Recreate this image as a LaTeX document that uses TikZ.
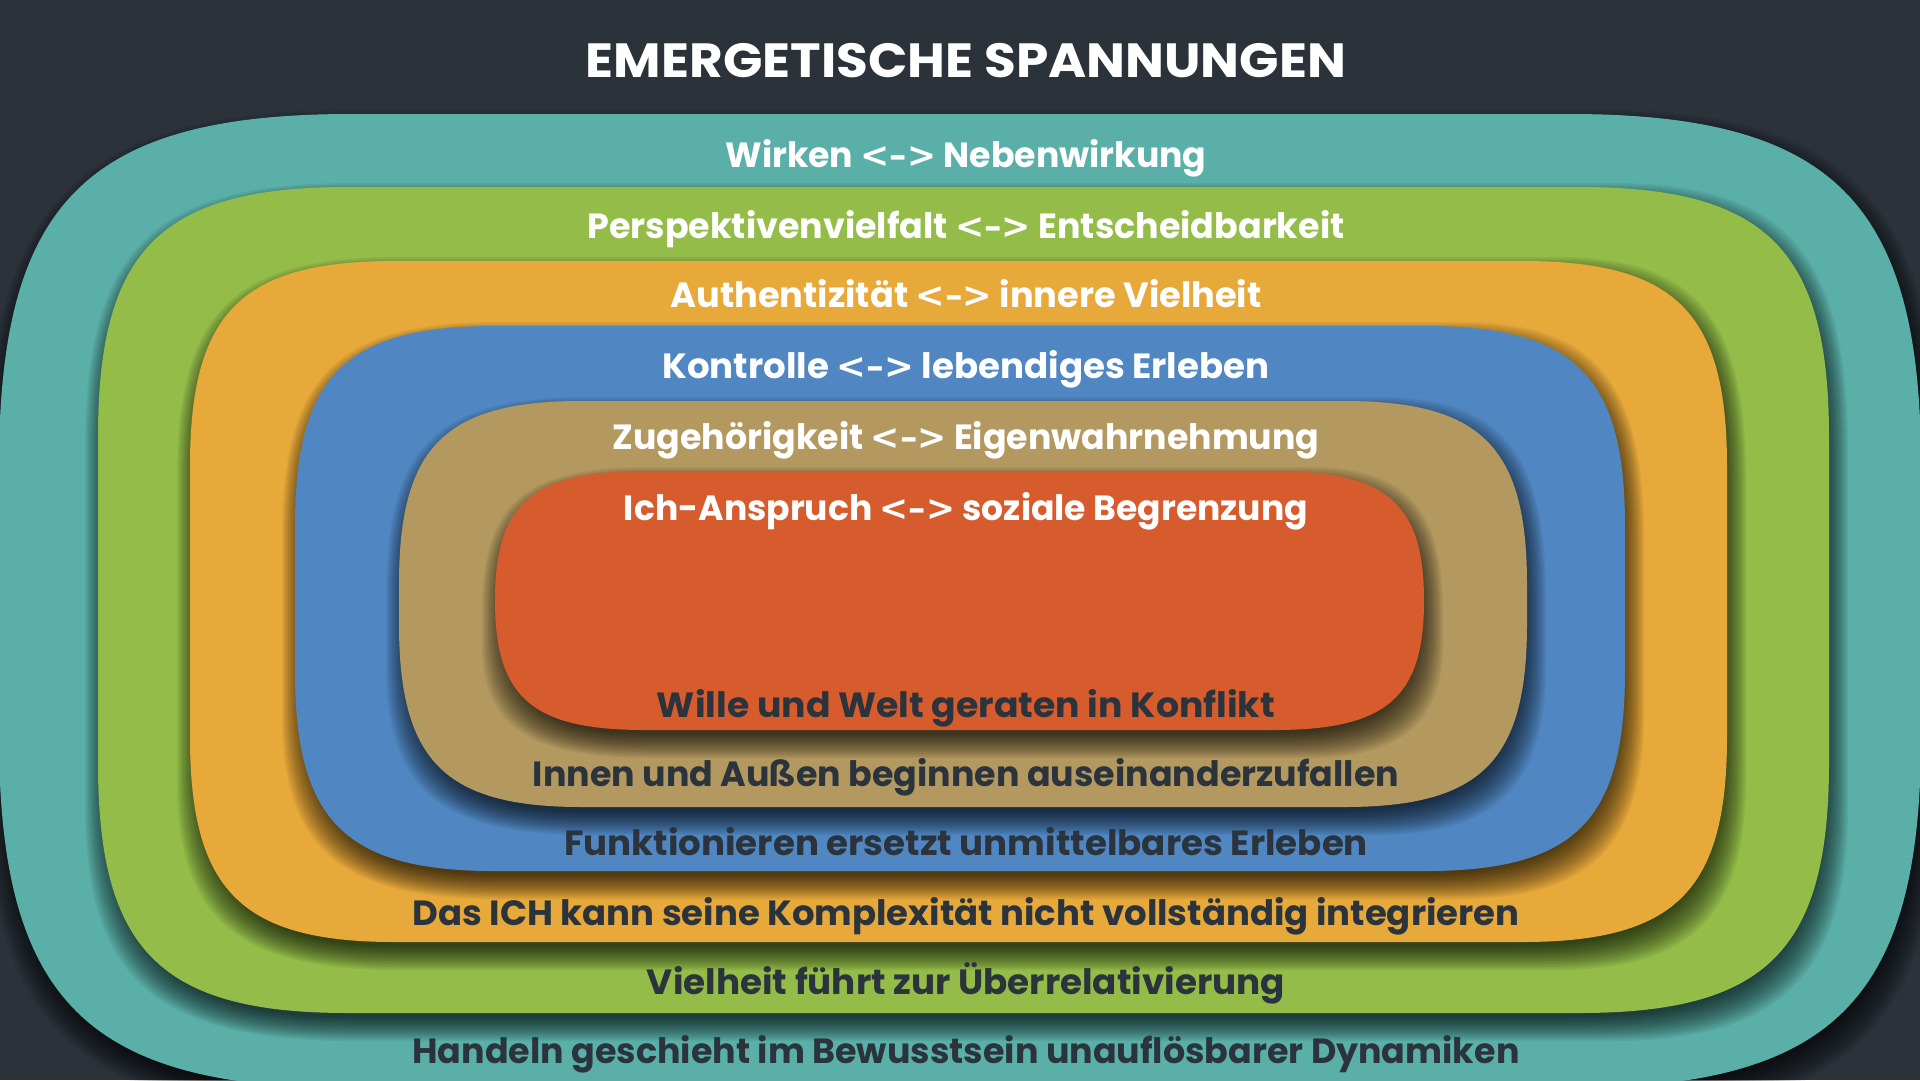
\documentclass[tikz,border=0pt]{standalone}
\usepackage{fontspec}
\setmainfont{Poppins}
\newfontfamily\symf{DejaVu Sans}
\usepackage{graphicx}
\definecolor{bg}{HTML}{2B323A}
\definecolor{cteal}{HTML}{5AB0A8}
\definecolor{cgreen}{HTML}{93BC48}
\definecolor{corange}{HTML}{E8A93B}
\definecolor{cblue}{HTML}{5087C2}
\definecolor{ctan}{HTML}{B3995F}
\definecolor{cred}{HTML}{D65B2D}
\definecolor{cdark}{HTML}{2B333C}
% rounded (smoothed) rectangle path: x0 y0 x1 y1 rx ry
\newcommand\rrpath[6]{%
 ({#1+#5},{#2}) -- ({#3-#5},{#2})
 .. controls ({#3-0.25*(#5)},{#2}) and ({#3},{#2+0.25*(#6)}) .. ({#3},{#2+#6})
 -- ({#3},{#4-#6})
 .. controls ({#3},{#4-0.25*(#6)}) and ({#3-0.25*(#5)},{#4}) .. ({#3-#5},{#4})
 -- ({#1+#5},{#4})
 .. controls ({#1+0.25*(#5)},{#4}) and ({#1},{#4-0.25*(#6)}) .. ({#1},{#4-#6})
 -- ({#1},{#2+#6})
 .. controls ({#1},{#2+0.25*(#6)}) and ({#1+0.25*(#5)},{#2}) .. ({#1+#5},{#2}) -- cycle}
\newcommand\ringlayer[7]{%
  \foreach \e in {0,1.5,...,24}{%
    \fill[black,opacity=0.055] \rrpath{#1-\e+11}{#2-\e+20}{#3+\e-5}{#4+\e+4}{#5+\e-8}{#6+\e-8};
  }%
  \fill[#7] \rrpath{#1}{#2}{#3}{#4}{#5}{#6};
}
\newcommand\lbl[2]{\resizebox{#1pt}{\height}{#2}}
\newcommand\arr{{\symf\bfseries <–>}}
\tikzset{
  title/.style={anchor=base,text=white,font=\fontsize{48}{56}\selectfont\bfseries,inner sep=0pt},
  toplbl/.style={anchor=base,text=white,font=\fontsize{35}{40}\selectfont\bfseries,inner sep=0pt},
  botlbl/.style={anchor=base,text=cdark,font=\fontsize{35}{40}\selectfont\bfseries,inner sep=0pt}
}
\begin{document}
\begin{tikzpicture}[x=1pt,y=-1pt]
\useasboundingbox (0,0) rectangle (1920,1080);
\fill[bg] (0,0) rectangle (1920,1080);
\clip (0,0) rectangle (1920,1080);
\ringlayer{-1}{114}{1921}{1088}{352}{352}{cteal}
\ringlayer{98}{187}{1829}{1013}{250}{250}{cgreen}
\ringlayer{190}{261}{1727}{942}{205}{205}{corange}
\ringlayer{295}{326}{1625}{871}{200}{200}{cblue}
\ringlayer{399}{401}{1527}{807}{183}{183}{ctan}
\ringlayer{495}{471}{1424}{730}{150}{129}{cred}

\node[title] (ttl) at (966,77) {\lbl{760}{EMERGETISCHE SPANNUNGEN}};

\node[toplbl] (a1) at (966,167.5) {\lbl{481}{Wirken \arr{} Nebenwirkung}};
\node[toplbl] (a2) at (966,238) {\lbl{757}{Perspektivenvielfalt \arr{} Entscheidbarkeit}};
\node[toplbl] (a3) at (966,307) {\lbl{591}{Authentizität \arr{} innere Vielheit}};
\node[toplbl] (a4) at (966,378) {\lbl{607}{Kontrolle \arr{} lebendiges Erleben}};
\node[toplbl] (a5) at (966,449) {\lbl{707}{Zugehörigkeit \arr{} Eigenwahrnehmung}};
\node[toplbl] (a6) at (966,520) {\lbl{684}{Ich-Anspruch \arr{} soziale Begrenzung}};

\node[botlbl] (b6) at (966,717) {\lbl{618}{Wille und Welt geraten in Konflikt}};
\node[botlbl] (b5) at (966,786) {\lbl{866}{Innen und Außen beginnen auseinanderzufallen}};
\node[botlbl] (b4) at (966,855) {\lbl{804}{Funktionieren ersetzt unmittelbares Erleben}};
\node[botlbl] (b3) at (966,925) {\lbl{1107}{Das ICH kann seine Komplexität nicht vollständig integrieren}};
\node[botlbl] (b2) at (966,994) {\lbl{638}{Vielheit führt zur Überrelativierung}};
\node[botlbl] (b1) at (966,1063) {\lbl{1107}{Handeln geschieht im Bewusstsein unauflösbarer Dynamiken}};
\end{tikzpicture}
\end{document}
